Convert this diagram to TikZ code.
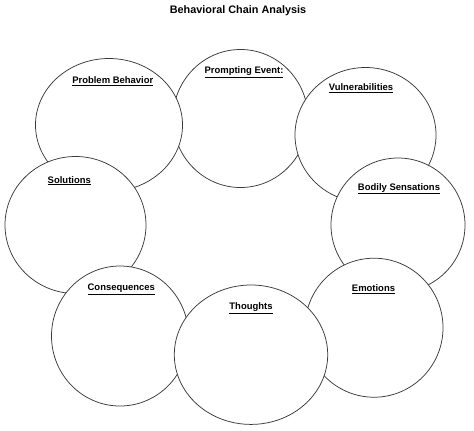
\documentclass[tikz,border=0pt]{standalone}
\usepackage{fontspec}
\setmainfont{Liberation Sans}
\definecolor{chainLine}{HTML}{3A3A3A}

\begin{document}
\begin{tikzpicture}[x=1bp,y=-1bp,
  bubble/.style={draw=chainLine,fill=white,line width=0.75pt},
  lbl/.style={font=\fontsize{9.5}{11}\selectfont\bfseries,inner sep=0pt,yshift=-1.5bp}]
\useasboundingbox (0,0) rectangle (474,430);
\node[font=\fontsize{10.9}{13}\selectfont\bfseries] (title) at (238,11) {Behavioral Chain Analysis};
% bubbles, back to front
\filldraw[bubble] (240.5,118.5) ellipse [x radius=67.5,y radius=69];
\filldraw[bubble] (365.5,135) ellipse [x radius=70.5,y radius=67.5];
\filldraw[bubble] (398,225) ellipse [x radius=67,y radius=67];
\filldraw[bubble] (374,327.7) ellipse [x radius=69,y radius=69.5];
\filldraw[bubble] (109,125) ellipse [x radius=73.5,y radius=66.5];
\filldraw[bubble] (75.5,225) ellipse [x radius=70.5,y radius=68.5];
\filldraw[bubble] (120,336) ellipse [x radius=68.5,y radius=70];
\filldraw[bubble] (251,354.7) ellipse [x radius=76.7,y radius=69.7];
% labels
\node[lbl] (prompt) at (244,71) {\underline{Prompting Event:}};
\node[lbl] (vuln) at (361,87) {\underline{Vulnerabilities}};
\node[lbl] (body) at (399,187.3) {\underline{Bodily Sensations}};
\node[lbl] (emo) at (373.5,287.7) {\underline{Emotions}};
\node[lbl] (problem) at (112.8,80) {\underline{Problem Behavior}};
\node[lbl] (sol) at (69.3,179.3) {\underline{Solutions}};
\node[lbl] (cons) at (121.3,287.7) {\underline{Consequences}};
\node[lbl] (thought) at (251,306.7) {\underline{Thoughts}};
\end{tikzpicture}
\end{document}
